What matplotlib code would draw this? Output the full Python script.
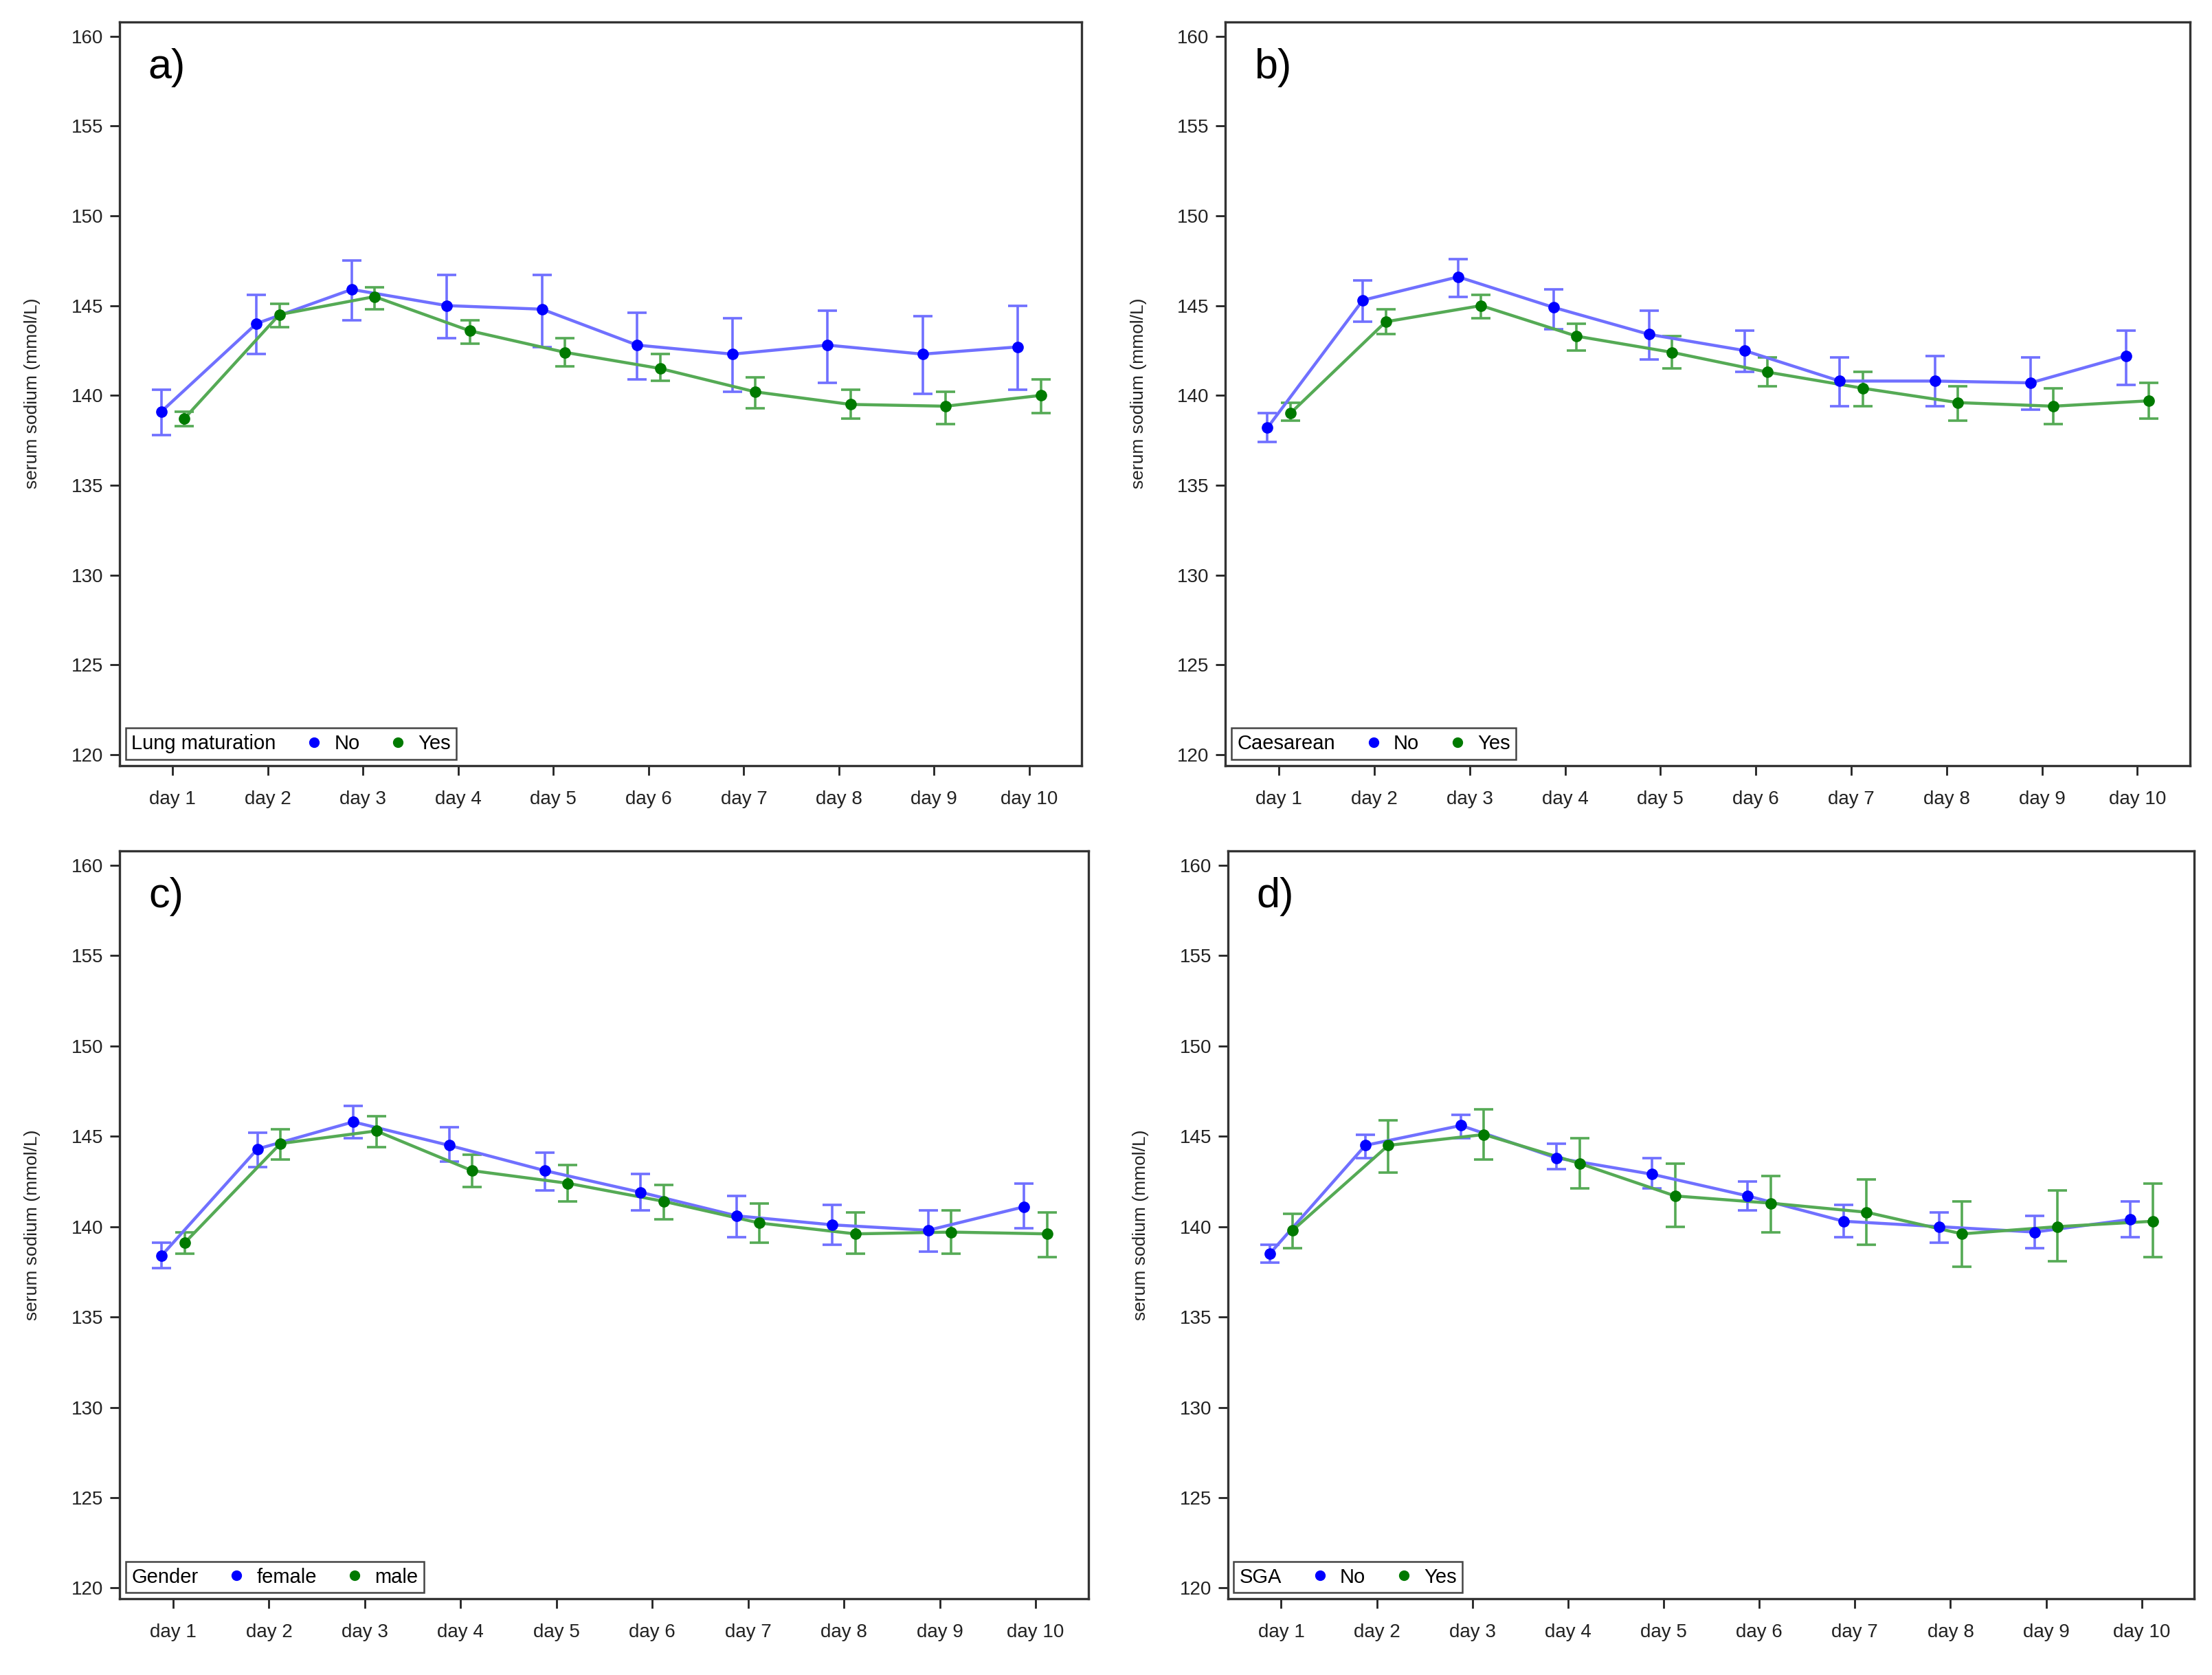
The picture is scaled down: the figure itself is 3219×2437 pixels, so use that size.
import numpy as np
import matplotlib.pyplot as plt
from matplotlib.lines import Line2D

plt.rcParams['font.family'] = ['Liberation Sans', 'DejaVu Sans']

# Дни наблюдения
days = ['day 1', 'day 2', 'day 3', 'day 4', 'day 5',
        'day 6', 'day 7', 'day 8', 'day 9', 'day 10']

# a) Lung maturation
a_no = [139.1, 144.0, 145.9, 145.0, 144.8, 142.8, 142.3, 142.8, 142.3, 142.7]
a_no_hi = [140.3, 145.6, 147.5, 146.7, 146.7, 144.6, 144.3, 144.7, 144.4, 145.0]
a_no_lo = [137.8, 142.3, 144.2, 143.2, 142.7, 140.9, 140.2, 140.7, 140.1, 140.3]
a_yes = [138.7, 144.5, 145.5, 143.6, 142.4, 141.5, 140.2, 139.5, 139.4, 140.0]
a_yes_hi = [139.1, 145.1, 146.0, 144.2, 143.2, 142.3, 141.0, 140.3, 140.2, 140.9]
a_yes_lo = [138.3, 143.8, 144.8, 142.9, 141.6, 140.8, 139.3, 138.7, 138.4, 139.0]

# b) Caesarean
b_no = [138.2, 145.3, 146.6, 144.9, 143.4, 142.5, 140.8, 140.8, 140.7, 142.2]
b_no_hi = [139.0, 146.4, 147.6, 145.9, 144.7, 143.6, 142.1, 142.2, 142.1, 143.6]
b_no_lo = [137.4, 144.1, 145.5, 143.7, 142.0, 141.3, 139.4, 139.4, 139.2, 140.6]
b_yes = [139.0, 144.1, 145.0, 143.3, 142.4, 141.3, 140.4, 139.6, 139.4, 139.7]
b_yes_hi = [139.6, 144.8, 145.6, 144.0, 143.3, 142.1, 141.3, 140.5, 140.4, 140.7]
b_yes_lo = [138.6, 143.4, 144.3, 142.5, 141.5, 140.5, 139.4, 138.6, 138.4, 138.7]

# c) Gender
c_f = [138.4, 144.3, 145.8, 144.5, 143.1, 141.9, 140.6, 140.1, 139.8, 141.1]
c_f_hi = [139.1, 145.2, 146.7, 145.5, 144.1, 142.9, 141.7, 141.2, 140.9, 142.4]
c_f_lo = [137.7, 143.3, 144.9, 143.6, 142.0, 140.9, 139.4, 139.0, 138.6, 139.9]
c_m = [139.1, 144.6, 145.3, 143.1, 142.4, 141.4, 140.2, 139.6, 139.7, 139.6]
c_m_hi = [139.7, 145.4, 146.1, 144.0, 143.4, 142.3, 141.3, 140.8, 140.9, 140.8]
c_m_lo = [138.5, 143.7, 144.4, 142.2, 141.4, 140.4, 139.1, 138.5, 138.5, 138.3]

# d) SGA
d_no = [138.5, 144.5, 145.6, 143.8, 142.9, 141.7, 140.3, 140.0, 139.7, 140.4]
d_no_hi = [139.0, 145.1, 146.2, 144.6, 143.8, 142.5, 141.2, 140.8, 140.6, 141.4]
d_no_lo = [138.0, 143.8, 144.9, 143.2, 142.1, 140.9, 139.4, 139.1, 138.8, 139.4]
d_yes = [139.8, 144.5, 145.1, 143.5, 141.7, 141.3, 140.8, 139.6, 140.0, 140.3]
d_yes_hi = [140.7, 145.9, 146.5, 144.9, 143.5, 142.8, 142.6, 141.4, 142.0, 142.4]
d_yes_lo = [138.8, 143.0, 143.7, 142.1, 140.0, 139.7, 139.0, 137.8, 138.1, 138.3]

panels = [
    ('a)', 'Lung maturation', ['No', 'Yes'],
     (a_no, a_no_lo, a_no_hi), (a_yes, a_yes_lo, a_yes_hi)),
    ('b)', 'Caesarean', ['No', 'Yes'],
     (b_no, b_no_lo, b_no_hi), (b_yes, b_yes_lo, b_yes_hi)),
    ('c)', 'Gender', ['female', 'male'],
     (c_f, c_f_lo, c_f_hi), (c_m, c_m_lo, c_m_hi)),
    ('d)', 'SGA', ['No', 'Yes'],
     (d_no, d_no_lo, d_no_hi), (d_yes, d_yes_lo, d_yes_hi)),
]

# Положения осей
rects = [[0.054, 0.543, 0.435, 0.444],
         [0.554, 0.543, 0.436, 0.444],
         [0.054, 0.0455, 0.438, 0.4465],
         [0.555, 0.0455, 0.437, 0.4465]]

line_cols = ['#7070ff', '#55aa55']
mark_cols = ['#0000ff', '#007a00']
shift = [-0.12, 0.12]

fig = plt.figure(figsize=(3219 / 200, 2437 / 200), dpi=200)
x = np.arange(1, len(days) + 1)

for rect, (tag, title, labels, s1, s2) in zip(rects, panels):
    ax = fig.add_axes(rect)
    for k, s in enumerate([s1, s2]):
        m, lo, hi = (np.array(v) for v in s)
        xs = x + shift[k]
        ax.errorbar(xs, m, yerr=[m - lo, hi - m], fmt='none',
                    ecolor=line_cols[k], elinewidth=1.3, capsize=5,
                    capthick=1.3, zorder=2)
        ax.plot(xs, m, color=line_cols[k], lw=1.6, zorder=3)
        ax.plot(xs, m, 'o', color=mark_cols[k], ms=5, zorder=4)
    ax.set_xlim(0.44, 10.55)
    ax.set_ylim(119.4, 160.8)
    ax.set_xticks(x)
    ax.set_xticklabels(days)
    ax.set_yticks(np.arange(120, 161, 5))
    ax.tick_params(labelsize=10, colors='#222222', length=5, width=1)
    ax.tick_params(axis='x', pad=8)
    for sp in ax.spines.values():
        sp.set_color('#333333')
        sp.set_linewidth(1.2)
    ax.set_ylabel('serum sodium (mmol/L)', fontsize=9.5, color='#222222',
                  labelpad=16)
    ax.text(0.03, 0.965, tag, transform=ax.transAxes, fontsize=22,
            va='top', ha='left')
    handles = [Line2D([], [], ls='none', marker=None),
               Line2D([], [], ls='none', marker='o', color=mark_cols[0], ms=4.5),
               Line2D([], [], ls='none', marker='o', color=mark_cols[1], ms=4.5)]
    leg = ax.legend(handles, [title] + labels, loc='lower left', ncol=3,
                    fontsize=10.5, handlelength=0.8, handletextpad=0.6,
                    columnspacing=1.5, borderpad=0.3, borderaxespad=0.3,
                    fancybox=False, framealpha=1, edgecolor='#444444')
    leg.get_frame().set_linewidth(0.9)
    # убрать пустое место под маркер у первой записи
    try:
        first = leg._legend_handle_box.get_children()[0].get_children()[0]
        first.sep = 0
        first.get_children()[0].width = 0
    except Exception:
        pass

fig.savefig('out.png', dpi=200)
